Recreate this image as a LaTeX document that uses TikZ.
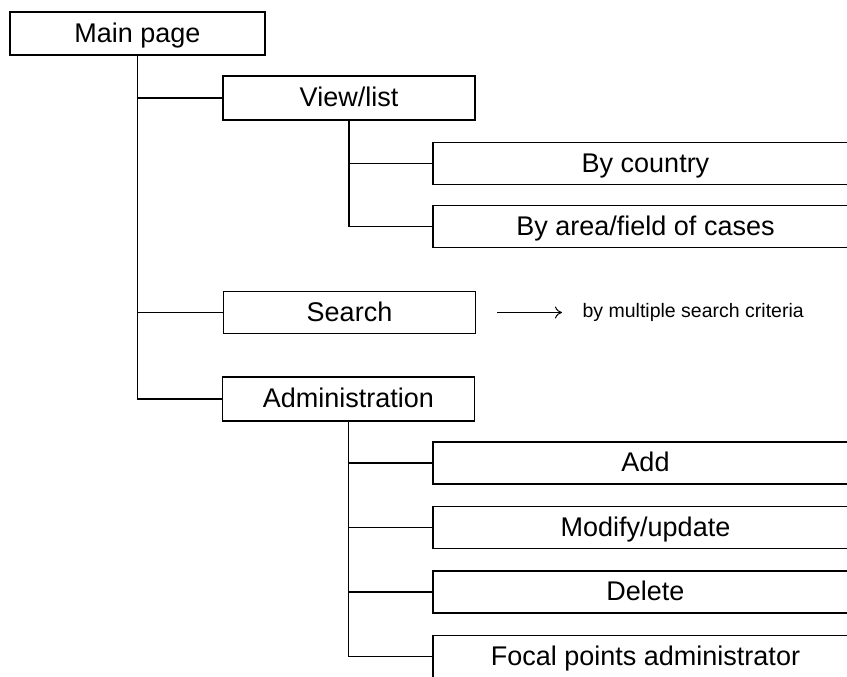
\documentclass[tikz,border=0pt]{standalone}
\usepackage{fontspec}
\setmainfont{Liberation Sans}
\usetikzlibrary{arrows.meta}
\begin{document}
\begin{tikzpicture}[x=1pt,y=1pt,
  line width=1.3pt,
  box/.style={draw, rectangle, inner sep=0pt, minimum height=42pt,
    text height=20pt, text depth=2.5pt,
    font=\fontsize{27}{32}\selectfont},
  topbox/.style={box, minimum width=255pt},
  midbox/.style={box, minimum width=252pt},
  leafbox/.style={box, minimum width=425pt},
  link/.style={line width=1.3pt}]
\useasboundingbox (0,0) rectangle (847,-677);
\begin{scope}
\clip (0,0) rectangle (847,-677);
% top level
\node[topbox, minimum height=43pt] (main) at (137.5,-33.5) {Main page};
% second level
\node[midbox, minimum height=44pt] (view) at (349,-98) {View/list};
\node[midbox] (search) at (349.5,-312.5) {Search};
\node[midbox, minimum height=44pt] (admin) at (348.5,-399) {Administration};
% leaves of View/list
\node[leafbox] (country) at (645.5,-163.5) {By country};
\node[leafbox] (area) at (645.5,-226.5) {By area/field of cases};
% leaves of Administration
\node[leafbox] (add) at (645.5,-463) {Add};
\node[leafbox] (modify) at (645.5,-527.5) {Modify/update};
\node[leafbox] (delete) at (645.5,-592) {Delete};
\node[leafbox] (focal) at (645.5,-656.5) {Focal points administrator};
% search note
\node[anchor=west, inner sep=0pt, font=\fontsize{19.5}{22}\selectfont] (crit) at (582,-312.5) {by multiple search criteria};
% tree connectors
\draw[link] (main.south) |- (view.west);
\draw[link] (main.south) |- (search.west);
\draw[link] (main.south) |- (admin.west);
\draw[link] (view.south) |- (country.west);
\draw[link] (view.south) |- (area.west);
\draw[link] (admin.south) |- (add.west);
\draw[link] (admin.south) |- (modify.west);
\draw[link] (admin.south) |- (delete.west);
\draw[link] (admin.south) |- (focal.west);
% arrow to the note
\draw[line width=1pt, -{To[length=7pt,width=12pt]}] ([xshift=21pt]search.east) -- ([xshift=-20pt]crit.west);
\end{scope}
\end{tikzpicture}
\end{document}
